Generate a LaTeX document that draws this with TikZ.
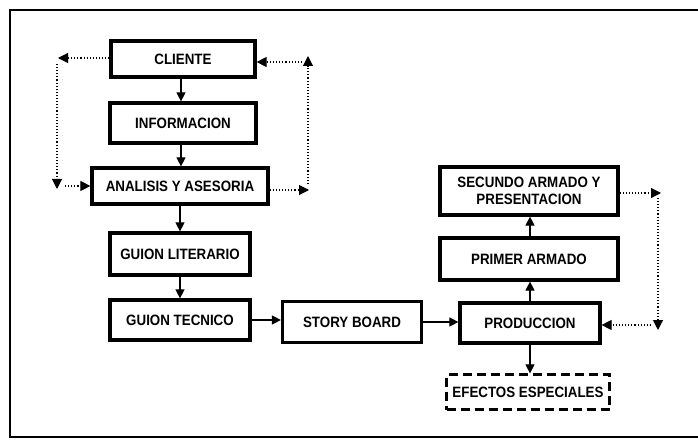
\documentclass[tikz,border=0pt]{standalone}
\usepackage{fontspec}
\newfontfamily\boxfont[FakeStretch=0.89]{Liberation Sans}
\usetikzlibrary{arrows.meta}
\tikzset{
  stepbox/.style={draw, line width=3.2pt, inner sep=0pt, align=center,
    font=\boxfont\bfseries\fontsize{15}{17}\selectfont},
  dashbox/.style={stepbox, line width=2.2pt, dash pattern=on 9pt off 5pt},
  arr/.style={line width=1.1pt, -{Triangle[length=9pt,width=9pt]}},
  dotarr/.style={line width=1.1pt, dotted, -{Triangle[length=10pt,width=10pt]}},
  frame/.style={line width=1.6pt}
}
\begin{document}
\begin{tikzpicture}[x=1pt,y=-1pt]
\useasboundingbox (0,0) rectangle (698,443);
\clip (0,0) rectangle (698,443);
% frame
\draw[frame] (705,10) -- (10,10) -- (10,437) -- (705,437);
% nodes
\node[stepbox, minimum width=144pt, minimum height=36pt] (cliente) at (183,59) {CLIENTE};
\node[stepbox, minimum width=146pt, minimum height=40pt] (info) at (183,123) {INFORMACION};
\node[stepbox, minimum width=176pt, minimum height=36pt] (analisis) at (180,186) {ANALISIS Y ASESORIA};
\node[stepbox, minimum width=140pt, minimum height=42pt] (glit) at (180,254) {GUION LITERARIO};
\node[stepbox, minimum width=140pt, minimum height=40pt] (gtec) at (180,320) {GUION TECNICO};
\node[stepbox, minimum width=139pt, minimum height=41pt] (story) at (352,322) {STORY BOARD};
\node[stepbox, minimum width=140pt, minimum height=40pt] (prod) at (530,323) {PRODUCCION};
\node[stepbox, minimum width=178pt, minimum height=42pt] (primer) at (529,259) {PRIMER ARMADO};
\node[stepbox, minimum width=178pt, minimum height=48pt] (segundo) at (529,191) {SECUNDO ARMADO Y\\PRESENTACION};
\node[dashbox, minimum width=163pt, minimum height=35pt] (efectos) at (528,392) {EFECTOS ESPECIALES};
% solid arrows
\draw[arr] (cliente.south -| 181,0) -- (info.north -| 181,0);
\draw[arr] (info.south -| 181,0) -- (analisis.north -| 181,0);
\draw[arr] (analisis.south -| 180,0) -- (glit.north -| 180,0);
\draw[arr] (glit.south) -- (gtec.north);
\draw[arr] (gtec.east) -- (story.west |- gtec.east);
\draw[arr] (story.east) -- (prod.west |- story.east);
\draw[arr] (prod.north) -- (primer.south -| prod.north);
\draw[arr] (primer.north -| prod.north) -- (segundo.south -| prod.north);
\draw[arr] (prod.south) -- (efectos.north -| prod.south);
% dotted loops, left
\coordinate (la) at (58,58);
\coordinate (lb) at (57,189);
\draw[dotarr] (cliente.west |- la) -- (la);
\draw[dotarr] (57,64) -- (lb);
\draw[dotarr] (65,186) -- (analisis.west |- 0,186);
% dotted loops, right of top column
\coordinate (ra) at (309,190);
\coordinate (rb) at (308,56);
\draw[dotarr] (analisis.east |- ra) -- (ra);
\draw[dotarr] (308,184) -- (rb);
\draw[dotarr] (302,62) -- (cliente.east |- 0,62);
% dotted loop, right column
\coordinate (sa) at (661,193);
\coordinate (sb) at (658,330);
\draw[dotarr] (segundo.east |- sa) -- (sa);
\draw[dotarr] (658,198) -- (sb);
\draw[dotarr] (651,325) -- (prod.east |- 0,325);
\end{tikzpicture}
\end{document}
